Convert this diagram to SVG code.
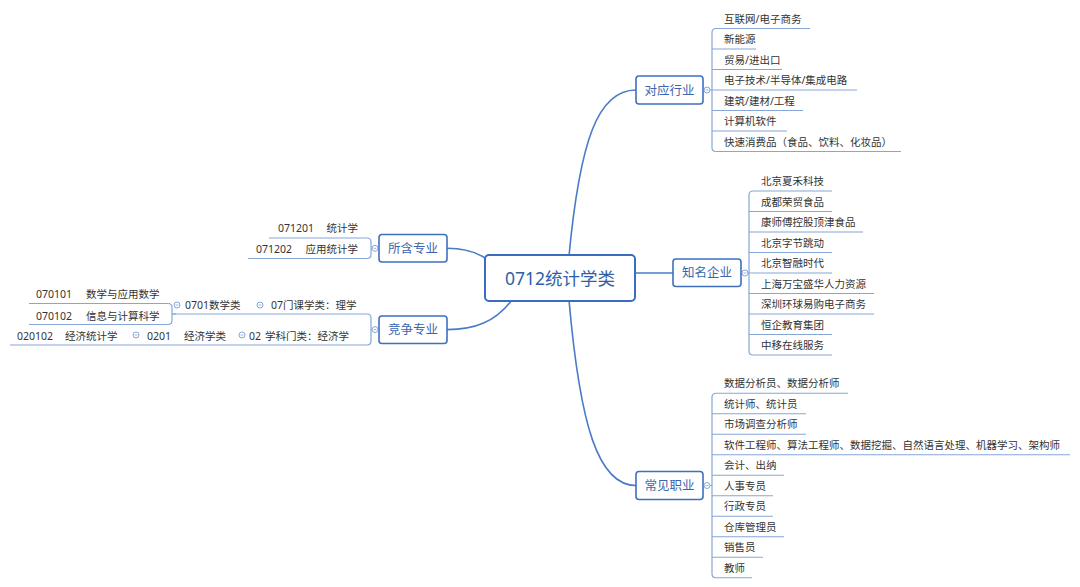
<svg xmlns="http://www.w3.org/2000/svg" width="1080" height="587" viewBox="0 0 1080 587">
<style>
.main{fill:none;stroke:#4a7bc8;stroke-width:1.6}
.br{fill:none;stroke:#86a6d8;stroke-width:1.2}
.ul{stroke:#86a6d8;stroke-width:1.2}
.box{fill:#fff;stroke:#3f6fbf;stroke-width:1.6}
.root{fill:#fff;stroke:#3a6cbf;stroke-width:2}
.bt{font-family:"Noto Sans","Noto Sans CJK SC",sans-serif;font-size:12.5px;fill:#3a66ae;text-anchor:middle}
.rt{font-family:"Noto Sans","Noto Sans CJK SC",sans-serif;font-size:17.5px;fill:#2f5ea8;text-anchor:middle}
.t{font-family:"Noto Sans","Noto Sans CJK SC",sans-serif;font-size:10.5px;fill:#333}
.c{fill:#fff;stroke:#86a6d8;stroke-width:1}
</style>
<defs>
<g id="col"><circle class="c" cx="0" cy="0" r="3"/><path d="M-1.5 0H1.5" stroke="#86a6d8" stroke-width="0.8"/></g>
</defs>
<rect width="1080" height="587" fill="#fff"/>
<g id="connectors">
<path class="main" d="M569 256C580 140 598 90 636 90"/>
<path class="main" d="M569 300C580 425 598 485.5 636 485.5"/>
<path class="main" d="M635 273H673"/>
<path class="main" d="M447 248.3C463 248.3 476 251 488 260"/>
<path class="main" d="M512 300C495 322 475 329.6 447 329.6"/>
<path class="br" d="M703 90H712M716 28.5Q712 28.5 712 32.5V147.5Q712 151.5 716 151.5M712 49H716M712 69.5H716M712 110.5H716M712 131H716"/>
<path class="br" d="M741 273H749M753 191Q749 191 749 195V351Q749 355 753 355M749 211.5H753M749 232H753M749 252.5H753M749 293.5H753M749 314H753M749 334.5H753"/>
<path class="br" d="M703 485.5H712M716 393.25Q712 393.25 712 397.25V573.75Q712 577.75 716 577.75M712 413.75H716M712 434.25H716M712 454.75H716M712 475.25H716M712 495.75H716M712 516.25H716M712 536.75H716M712 557.25H716"/>
<path class="br" d="M379 248.3H371M367 238Q371 238 371 242V254.5Q371 258.5 367 258.5"/>
<path class="br" d="M379 329.6H371M367 314Q371 314 371 318V341Q371 345 367 345"/>
<path class="br" d="M176 314H172M168 303.5Q172 303.5 172 307.5V320.5Q172 324.5 168 324.5"/>
</g>
<g id="root"><rect class="root" x="485" y="255" width="150" height="46" rx="4"/><text class="rt" x="560" y="284.5">0712统计学类</text></g>
<g id="duiying"><rect class="box" x="636" y="76" width="67" height="28" rx="3"/><text class="bt" x="669.5" y="94.5">对应行业</text><use href="#col" x="707" y="90"/></g>
<g id="zhiming"><rect class="box" x="673" y="259" width="68" height="27.5" rx="3"/><text class="bt" x="707" y="277.3">知名企业</text><use href="#col" x="745" y="273"/></g>
<g id="changjian"><rect class="box" x="636" y="471.5" width="67" height="28" rx="3"/><text class="bt" x="669.5" y="490">常见职业</text><use href="#col" x="707" y="485.5"/></g>
<g id="suohan"><rect class="box" x="379" y="234.5" width="68" height="27.5" rx="3"/><text class="bt" x="413" y="252.8">所含专业</text><use href="#col" x="375" y="248.3"/></g>
<g id="jingzheng"><rect class="box" x="379" y="316" width="68" height="27.5" rx="3"/><text class="bt" x="413" y="334.2">竞争专业</text><use href="#col" x="375" y="329.6"/></g>
<g id="d1"><line class="ul" x1="716" y1="28.5" x2="810" y2="28.5"/><text class="t" x="724" y="22.5">互联网/电子商务</text></g>
<g id="d2"><line class="ul" x1="716" y1="49" x2="756" y2="49"/><text class="t" x="724" y="43">新能源</text></g>
<g id="d3"><line class="ul" x1="716" y1="69.5" x2="782" y2="69.5"/><text class="t" x="724" y="63.5">贸易/进出口</text></g>
<g id="d4"><line class="ul" x1="712" y1="90" x2="857" y2="90"/><text class="t" x="724" y="84">电子技术/半导体/集成电路</text></g>
<g id="d5"><line class="ul" x1="716" y1="110.5" x2="803" y2="110.5"/><text class="t" x="724" y="104.5">建筑/建材/工程</text></g>
<g id="d6"><line class="ul" x1="716" y1="131" x2="787" y2="131"/><text class="t" x="724" y="125">计算机软件</text></g>
<g id="d7"><line class="ul" x1="716" y1="151.5" x2="901" y2="151.5"/><text class="t" x="724" y="145.5">快速消费品（食品、饮料、化妆品）</text></g>
<g id="z1"><line class="ul" x1="753" y1="191" x2="832" y2="191"/><text class="t" x="761" y="185">北京夏禾科技</text></g>
<g id="z2"><line class="ul" x1="753" y1="211.5" x2="832" y2="211.5"/><text class="t" x="761" y="205.5">成都荣贸食品</text></g>
<g id="z3"><line class="ul" x1="753" y1="232" x2="863" y2="232"/><text class="t" x="761" y="226">康师傅控股顶津食品</text></g>
<g id="z4"><line class="ul" x1="753" y1="252.5" x2="832" y2="252.5"/><text class="t" x="761" y="246.5">北京字节跳动</text></g>
<g id="z5"><line class="ul" x1="749" y1="273" x2="832" y2="273"/><text class="t" x="761" y="267">北京智融时代</text></g>
<g id="z6"><line class="ul" x1="753" y1="293.5" x2="874" y2="293.5"/><text class="t" x="761" y="287.5">上海万宝盛华人力资源</text></g>
<g id="z7"><line class="ul" x1="753" y1="314" x2="874" y2="314"/><text class="t" x="761" y="308">深圳环球易购电子商务</text></g>
<g id="z8"><line class="ul" x1="753" y1="334.5" x2="832" y2="334.5"/><text class="t" x="761" y="328.5">恒企教育集团</text></g>
<g id="z9"><line class="ul" x1="753" y1="355" x2="832" y2="355"/><text class="t" x="761" y="349">中移在线服务</text></g>
<g id="c1"><line class="ul" x1="716" y1="393.25" x2="848" y2="393.25"/><text class="t" x="724" y="387.25">数据分析员、数据分析师</text></g>
<g id="c2"><line class="ul" x1="716" y1="413.75" x2="806" y2="413.75"/><text class="t" x="724" y="407.75">统计师、统计员</text></g>
<g id="c3"><line class="ul" x1="716" y1="434.25" x2="806" y2="434.25"/><text class="t" x="724" y="428.25">市场调查分析师</text></g>
<g id="c4"><line class="ul" x1="716" y1="454.75" x2="1070" y2="454.75"/><text class="t" x="724" y="448.75">软件工程师、算法工程师、数据挖掘、自然语言处理、机器学习、架构师</text></g>
<g id="c5"><line class="ul" x1="716" y1="475.25" x2="784" y2="475.25"/><text class="t" x="724" y="469.25">会计、出纳</text></g>
<g id="c6"><line class="ul" x1="716" y1="495.75" x2="773" y2="495.75"/><text class="t" x="724" y="489.75">人事专员</text></g>
<g id="c7"><line class="ul" x1="716" y1="516.25" x2="773" y2="516.25"/><text class="t" x="724" y="510.25">行政专员</text></g>
<g id="c8"><line class="ul" x1="716" y1="536.75" x2="784" y2="536.75"/><text class="t" x="724" y="530.75">仓库管理员</text></g>
<g id="c9"><line class="ul" x1="716" y1="557.25" x2="763" y2="557.25"/><text class="t" x="724" y="551.25">销售员</text></g>
<g id="c10"><line class="ul" x1="716" y1="577.75" x2="752" y2="577.75"/><text class="t" x="724" y="571.75">教师</text></g>
<g id="s1"><line class="ul" x1="269" y1="238" x2="367" y2="238"/><text class="t" y="232"><tspan x="278">071201</tspan><tspan x="358" text-anchor="end">统计学</tspan></text></g>
<g id="s2"><line class="ul" x1="248" y1="258.5" x2="367" y2="258.5"/><text class="t" y="252.5"><tspan x="256">071202</tspan><tspan x="358" text-anchor="end">应用统计学</tspan></text></g>
<g id="j1"><line class="ul" x1="250" y1="314" x2="367" y2="314"/><text class="t" x="271" y="309">07门课学类：理学</text><use href="#col" x="260" y="305"/></g>
<g id="j11"><line class="ul" x1="172" y1="314" x2="250" y2="314"/><text class="t" x="185" y="309">0701数学类</text><use href="#col" x="177" y="305"/></g>
<g id="j111"><line class="ul" x1="29" y1="303.5" x2="168" y2="303.5"/><text class="t" y="298"><tspan x="36">070101</tspan><tspan x="86">数学与应用数学</tspan></text></g>
<g id="j112"><line class="ul" x1="29" y1="324.5" x2="168" y2="324.5"/><text class="t" y="319.5"><tspan x="36">070102</tspan><tspan x="86">信息与计算科学</tspan></text></g>
<g id="j2"><line class="ul" x1="238" y1="345" x2="367" y2="345"/><text class="t" y="339.5"><tspan x="249">02</tspan><tspan x="265">学科门类：经济学</tspan></text><use href="#col" x="242" y="335"/></g>
<g id="j21"><line class="ul" x1="131" y1="345" x2="238" y2="345"/><text class="t" y="339.5"><tspan x="147">0201</tspan><tspan x="184">经济学类</tspan></text><use href="#col" x="136" y="335"/></g>
<g id="j211"><line class="ul" x1="10" y1="345" x2="131" y2="345"/><text class="t" y="339.5"><tspan x="17">020102</tspan><tspan x="65">经济统计学</tspan></text></g>
</svg>
